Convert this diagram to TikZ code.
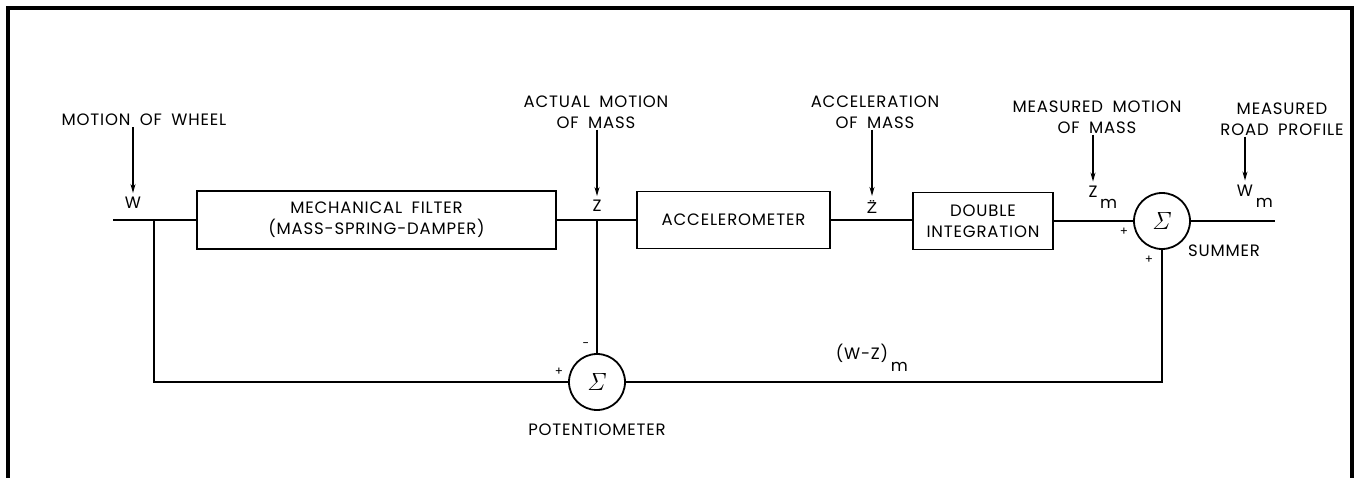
\documentclass[tikz,border=0pt]{standalone}
\usepackage[no-math]{fontspec}
\setmainfont{Poppins}[LetterSpace=5, WordSpace=1.8]
\newfontfamily\accfont{DejaVu Sans}
\usetikzlibrary{arrows.meta,positioning}

\begin{document}
\begin{tikzpicture}[
  x=1pt, y=-1pt,
  font=\fontsize{16.5}{21}\selectfont,
  block/.style={draw, line width=1.8pt, align=center, inner sep=0pt},
  sumnode/.style={draw, circle, line width=1.8pt, minimum size=56pt, inner sep=0pt, font=\fontsize{24}{24}\selectfont},
  lbl/.style={align=center, inner sep=1pt},
  sign/.style={font=\fontsize{12}{12}\selectfont, inner sep=0pt},
  wire/.style={line width=1.8pt},
  arrow/.style={-{Stealth[length=9pt,width=5pt]}, line width=1.3pt, shorten >=3pt}
]
\useasboundingbox (0,0) rectangle (1360,478);
\draw[line width=3.5pt] (8,478) -- (8,8) -- (1352,8) -- (1352,478);

% forward path
\node[block, minimum width=359pt, minimum height=58pt] (filter) at (376.5,220) {MECHANICAL FILTER\\(MASS-SPRING-DAMPER)};
\node[block, minimum width=193pt, minimum height=57pt] (accel) at (733.5,220) {ACCELEROMETER};
\node[block, minimum width=140pt, minimum height=57pt] (dblint) at (983,221) {DOUBLE\\INTEGRATION};
\node[sumnode] (summer) at (1162,221) {$\mathit{\Sigma}$};
\node[sumnode] (pot) at (597,382) {$\mathit{\Sigma}$};

\coordinate (win) at (113,220);
\coordinate (split) at (154,220);
\coordinate (zjoin) at (597,220);
\coordinate (wout) at (1275,221);

\draw[wire] (win) -- (filter.west);
\draw[wire] (split) |- (pot.west);
\draw[wire] (filter.east) -- (accel.west);
\draw[wire] (zjoin) -- (pot.north);
\draw[wire] (accel.east) -- (accel.east -| dblint.west);
\draw[wire] (dblint.east) -- (summer.west);
\draw[wire] (summer.east) -- (wout);
\draw[wire] (pot.east) -| (summer.south);

% signal names
\node[lbl] (wheel) at (144,120) {MOTION OF WHEEL};
\node[lbl] (w) at (133,203) {W};
\draw[arrow] (wheel.south -| w) -- (w.north);

\node[lbl] (actual) at (596,112) {ACTUAL MOTION\\OF MASS};
\node[lbl] (z) at (597,206) {Z};
\draw[arrow] (actual.south -| z) -- (z.north);

\node[lbl] (accmass) at (875,112) {ACCELERATION\\OF MASS};
\node[lbl] (zdd) at (872,207) {\accfont\fontsize{15}{18}\selectfont Z̈};
\draw[arrow] (accmass.south -| zdd) -- (zdd.north);

\node[lbl] (measz) at (1097,117) {MEASURED MOTION\\OF MASS};
\node[lbl] (zm) at (1093,197) {Z\rlap{\raisebox{-11pt}{\,m}}};
\draw[arrow] (measz.south -| zm) -- (zm.north);

\node[lbl] (road) at (1282,119) {MEASURED\\ROAD PROFILE};
\node[lbl] (wm) at (1245,196) {W\rlap{\raisebox{-11pt}{\,m}}};
\draw[arrow] (road.south -| wm) -- (wm.north);

\node[lbl] (wzm) at (862,358) {(W-Z)\rlap{\raisebox{-12pt}{\,m}}};

% signs and element names
\node[sign] (sp1) at (1124,232) {+};
\node[sign] (sp2) at (1149,260) {+};
\node[lbl] (sumlbl) at (1224,251) {SUMMER};
\node[sign] (pp1) at (559,372) {+};
\node[sign] (pm1) at (586,345) {-};
\node[lbl] (potlbl) at (597,430) {POTENTIOMETER};
\end{tikzpicture}
\end{document}
